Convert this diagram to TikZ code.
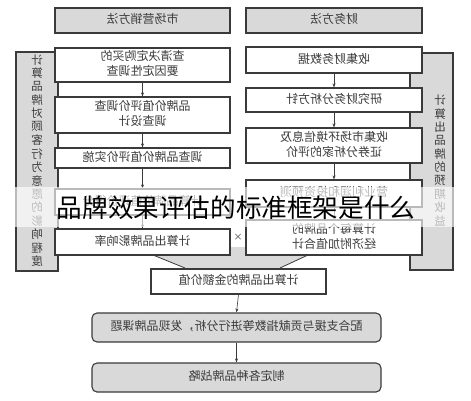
\documentclass[tikz,border=0pt]{standalone}
\usepackage{fontspec}
\usepackage{graphicx}
\setmainfont{Noto Sans CJK SC}
\newfontfamily\wmfont{Noto Sans CJK SC}
\usetikzlibrary{arrows.meta}
\definecolor{edge}{HTML}{3A3A3A}
\definecolor{ink}{HTML}{3C3C3C}
\definecolor{fillg}{HTML}{D9D9D9}
\newcommand{\mir}[1]{\reflectbox{\begin{tabular}{@{}c@{}}#1\end{tabular}}}
\newcommand{\vmir}[1]{\reflectbox{\fontsize{11.5}{12.9}\selectfont\begin{tabular}{@{}c@{}}#1\end{tabular}}}
\begin{document}
\begin{tikzpicture}[x=1pt,y=-1pt,
  box/.style={draw=edge,line width=1.1pt,fill=white,inner sep=0pt,text=ink,
    font=\fontsize{12}{15}\selectfont},
  graybox/.style={box,fill=fillg},
  roundbox/.style={box,fill=fillg,rounded corners=5pt},
  bar/.style={draw=edge,line width=1.1pt,fill=fillg},
  arr/.style={draw=edge,line width=0.6pt,-{Stealth[length=4pt,width=3pt]}}]
\useasboundingbox (0,0) rectangle (471,400);
% side bars
\path[bar] (16,52) rectangle (58,271);
\path[bar] (410,53) rectangle (453,270);
\node[text=ink] (VL) at (37,162) {\vmir{计\\算\\品\\牌\\对\\顾\\客\\行\\为\\意\\愿\\的\\影\\响\\程\\度}};
\node[text=ink] (VR) at (440,162) {\vmir{计\\算\\出\\品\\牌\\的\\预\\期\\收\\益}};
% funnel
\fill[fillg] (153,247) -- (308,247) -- (308,255) -- (280,268) -- (185,268) -- (153,255) -- cycle;
\coordinate (FL1) at (153,255); \coordinate (FL2) at (185,268);
\coordinate (FR1) at (308,255); \coordinate (FR2) at (280,268);
\draw[edge,line width=0.8pt] (FL1) -- (FL2);
\draw[edge,line width=0.8pt] (FR1) -- (FR2);
% headers
\node[graybox,minimum width=175pt,minimum height=25pt] (HL) at (142.5,20.5) {\mir{市场营销方法}};
\node[graybox,minimum width=176pt,minimum height=25pt] (HR) at (334,20.5) {\mir{财务方法}};
% left column
\node[box,minimum width=175pt,minimum height=34pt] (L1) at (142.5,65) {\mir{查清决定购买的\\要因定性调查}};
\node[box,minimum width=175pt,minimum height=36pt] (L2) at (142.5,115) {\mir{品牌价值评价调查\\调查设计}};
\node[box,minimum width=175pt,minimum height=20pt] (L3) at (142.5,158) {\mir{调查品牌价值评价实施}};
\node[box,minimum width=175pt,minimum height=26pt] (L4) at (142.5,202) {\mir{计算品牌价值评价得分}};
\node[box,minimum width=175pt,minimum height=26pt] (L5) at (142.5,242) {\mir{计算出品牌影响率}};
% right column
\node[box,minimum width=176pt,minimum height=26pt] (R1) at (334,60) {\mir{收集财务数据}};
\node[box,minimum width=176pt,minimum height=24pt] (R2) at (334,100) {\mir{研究财务分析方针}};
\node[box,minimum width=176pt,minimum height=35pt] (R3) at (334,145.5) {\mir{收集市场环境信息及\\证券分析家的评价}};
\node[box,minimum width=176pt,minimum height=27pt] (R4) at (334,193.5) {\mir{营业利润和投资预测}};
\node[box,minimum width=176pt,minimum height=35pt] (R5) at (334,237.5) {\mir{计算每个品牌的\\经济附加值合计}};
\node[text=ink,font=\fontsize{9}{9}\selectfont] (X) at (238,237) {×};
% bottom
\node[box,minimum width=175pt,minimum height=25pt] (T) at (238.5,281.5) {\mir{计算出品牌的金额价值}};
\node[roundbox,minimum width=289pt,minimum height=29pt] (B1) at (236.5,327.5) {\mir{配合支援与贡献指数等进行分析，发现品牌课题}};
\node[roundbox,minimum width=289pt,minimum height=29pt] (B2) at (236.5,377.5) {\mir{制定各种品牌战略}};
% arrows
\foreach \a/\b in {L1/L2,L2/L3,L3/L4,L4/L5,R1/R2,R2/R3,R3/R4,R4/R5}
  \draw[arr] (\a.south) -- (\b.north);
\draw[arr] (T.south) -- (B1.north);
\draw[arr] (B1.south) -- (B2.north);
% overlay band and caption
\fill[white,opacity=0.65] (0,187) rectangle (471,227);
\node[text=black,font=\wmfont\fontsize{25.6}{26}\selectfont,inner sep=0pt] (W) at (236,208) {品牌效果评估的标准框架是什么};
\end{tikzpicture}
\end{document}
